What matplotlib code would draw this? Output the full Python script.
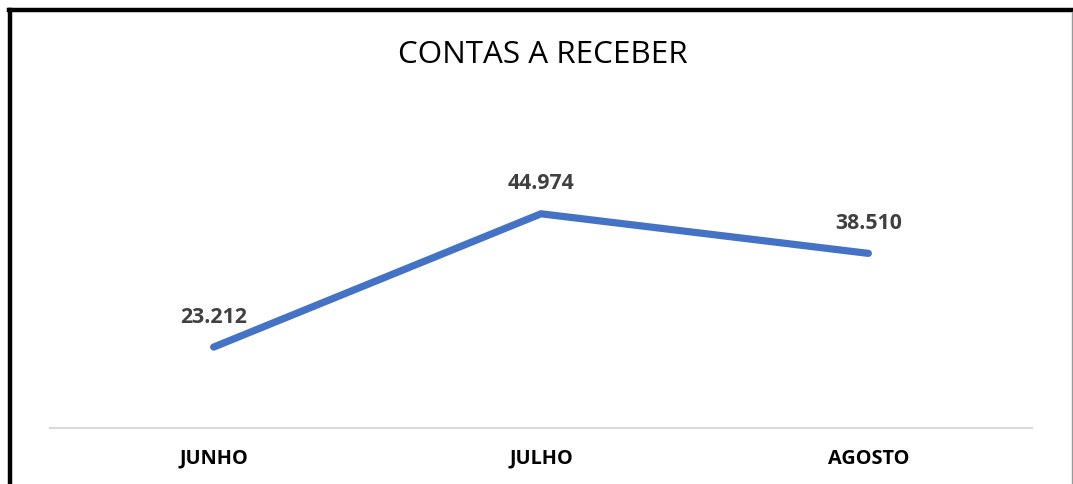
import matplotlib.pyplot as plt
from matplotlib.lines import Line2D

# dados
meses = ["JUNHO", "JULHO", "AGOSTO"]
valores = [23212, 44974, 38510]
rotulos = ["23.212", "44.974", "38.510"]

W, H = 1073, 484
fig = plt.figure(figsize=(W / 100, H / 100), dpi=100)
fig.patch.set_facecolor("white")

ax = fig.add_axes([50 / W, (H - 428) / H, (1032 - 50) / W, (428 - 183) / H])
x = range(len(meses))
ax.plot(x, valores, color="#4472C4", lw=5.2, solid_capstyle="round", solid_joinstyle="miter")
ax.set_xlim(-0.5, len(meses) - 0.5)
ax.set_ylim(10000, 50000)

for i, (v, r) in enumerate(zip(valores, rotulos)):
    ax.annotate(r, (i, v), xytext=(0, 21.5), textcoords="offset points",
                ha="center", va="center", fontsize=15.3, fontweight="bold",
                color="#404040", family="Open Sans")

ax.set_xticks(list(x))
ax.set_xticklabels(meses, fontsize=14.3, fontweight="bold", family="Open Sans")
ax.tick_params(axis="x", length=0, pad=15)
ax.set_yticks([])
for s in ["top", "left", "right"]:
    ax.spines[s].set_visible(False)
ax.spines["bottom"].set_color("#D9D9D9")
ax.spines["bottom"].set_linewidth(1.5)

fig.text(543 / W, 1 - 55 / H, "CONTAS A RECEBER", ha="center", va="center",
         fontsize=22.6, family="Open Sans", color="black")

# moldura
fig.add_artist(Line2D([10 / W, 10 / W], [0, 1 - 10 / H], transform=fig.transFigure, color="black", lw=3.2))
fig.add_artist(Line2D([8.5 / W, 1], [1 - 10 / H, 1 - 10 / H], transform=fig.transFigure, color="black", lw=3.2))
fig.add_artist(Line2D([1072 / W, 1072 / W], [0, 1 - 12 / H], transform=fig.transFigure, color="#999999", lw=1))

fig.savefig("out.png", dpi=100, facecolor="white")
